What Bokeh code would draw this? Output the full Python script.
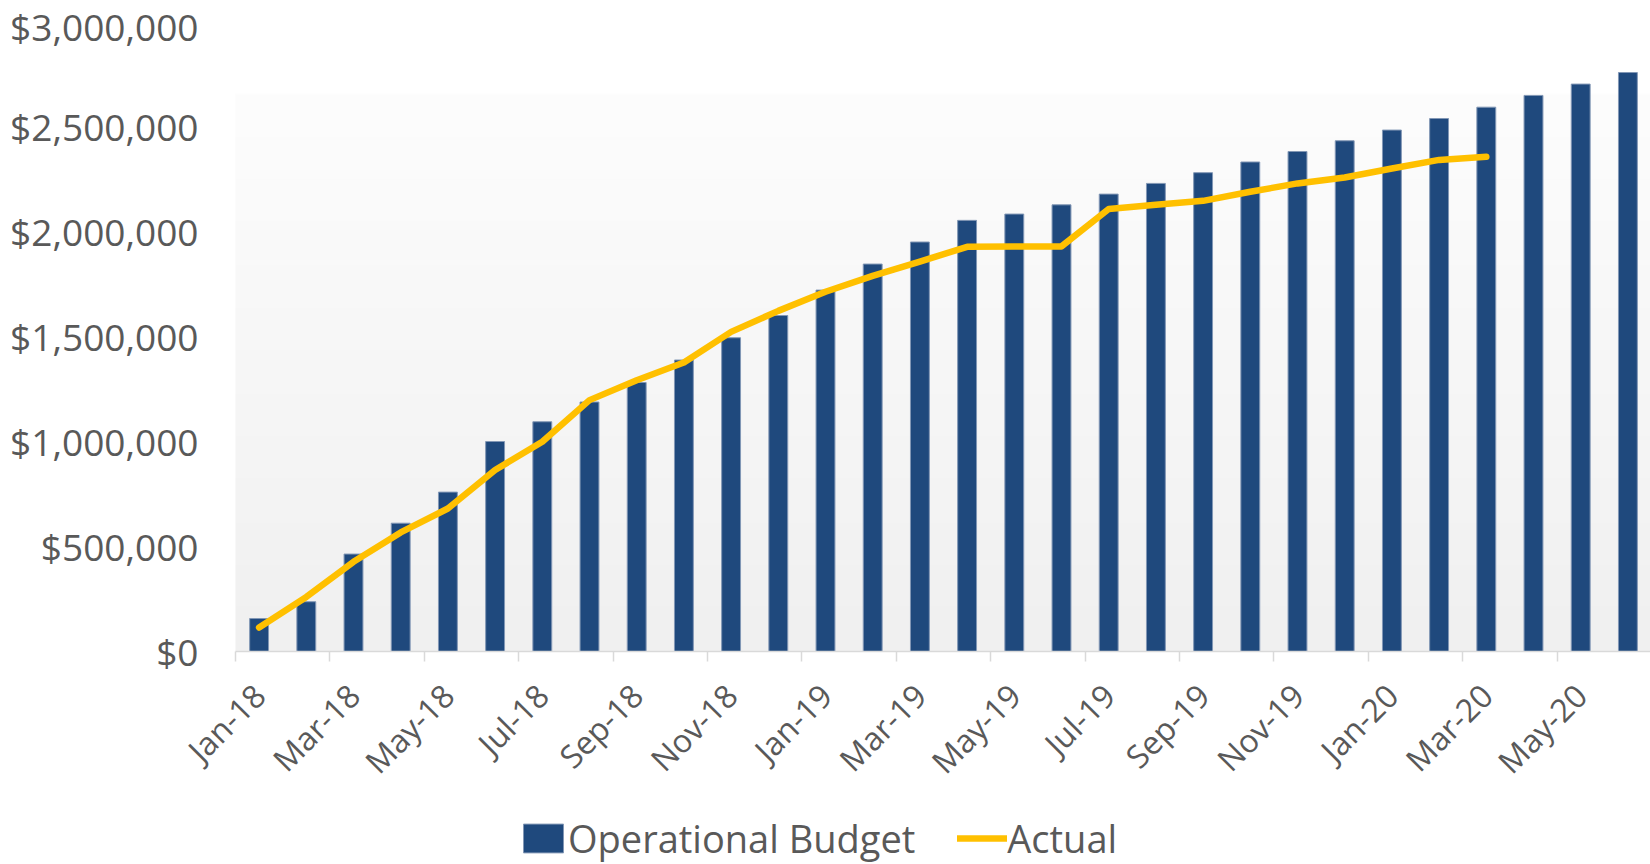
import numpy as np
from bokeh.plotting import figure
from bokeh.models import (Range1d, FixedTicker, NumeralTickFormatter, Legend, LegendItem)
from bokeh.embed import file_html
from bokeh.resources import INLINE
from math import pi

months = ["Jan-18", "Feb-18", "Mar-18", "Apr-18", "May-18", "Jun-18", "Jul-18", "Aug-18",
          "Sep-18", "Oct-18", "Nov-18", "Dec-18", "Jan-19", "Feb-19", "Mar-19", "Apr-19",
          "May-19", "Jun-19", "Jul-19", "Aug-19", "Sep-19", "Oct-19", "Nov-19", "Dec-19",
          "Jan-20", "Feb-20", "Mar-20", "Apr-20", "May-20", "Jun-20"]

operational_budget = [157000, 237000, 464000, 611000, 759000, 1000000, 1094000, 1188000,
                      1281000, 1388000, 1494000, 1600000, 1721000, 1845000, 1950000, 2053000,
                      2083000, 2127000, 2178000, 2229000, 2280000, 2331000, 2381000, 2432000,
                      2483000, 2538000, 2592000, 2648000, 2702000, 2757000]

actual = [114000, 260000, 427000, 567000, 681000, 864000, 999000, 1197000, 1292000,
          1376000, 1522000, 1622000, 1713000, 1789000, 1857000, 1927000, 1929000, 1929000,
          2107000, 2127000, 2146000, 2189000, 2229000, 2257000, 2300000, 2341000, 2356000]

y_ticks = [0, 500000, 1000000, 1500000, 2000000, 2500000, 3000000]

n = len(months)
x_idx = list(range(n))

# page geometry (px): plot area placement inside the full canvas
W, H = 1650, 864
LEFT, TOP, PLOT_H = 235, 21, 630
CAT_W = 47.2
Y_TOP_VAL = 3000000
per_px = Y_TOP_VAL / PLOT_H
Y_MAX = Y_TOP_VAL + TOP * per_px
Y_MIN = -(H - TOP - PLOT_H) * per_px
X0 = -0.5
X_START = X0 - LEFT / CAT_W
X_END = X0 + (W - LEFT) / CAT_W

p = figure(width=W, height=H,
           x_range=Range1d(X_START, X_END), y_range=Range1d(Y_MIN, Y_MAX),
           output_backend="svg", toolbar_location=None,
           min_border_left=0, min_border_right=0, min_border_top=0, min_border_bottom=0)
p.background_fill_color = "white"
p.border_fill_color = "white"
p.outline_line_color = None
p.xgrid.visible = False
p.ygrid.visible = False

# plot-area gradient background (light grey at bottom -> white near top)
GRAD_TOP = 2656000
rows = 200
t = np.linspace(0, 1, rows)
c = (240 + (253 - 240) * t).astype(np.uint32)
img = np.empty((rows, 1), dtype=np.uint32)
img[:, 0] = (255 << 24) | (c << 16) | (c << 8) | c
p.image_rgba(image=[img], x=X0, y=0, dw=X_END - X0, dh=GRAD_TOP)

bars = p.vbar(x=x_idx, top=operational_budget, width=0.4,
              fill_color="#1F497D", line_color="#8297b5", line_width=1)
ln = p.line(x=x_idx[:len(actual)], y=actual, line_color="#FFC000", line_width=6.5,
            line_cap="round", line_join="round")

# x axis, pinned at y = 0
xax = p.xaxis[0]
xax.fixed_location = 0
xax.bounds = (X0, X_END)
xax.ticker = FixedTicker(ticks=list(range(0, n, 2)),
                         minor_ticks=[i - 0.5 for i in range(0, n + 1, 2)])
xax.major_label_overrides = {i: months[i] for i in range(0, n, 2)}
xax.major_label_orientation = pi / 4
xax.major_tick_line_color = None
xax.major_tick_out = 0
xax.major_tick_in = 0
xax.minor_tick_line_color = "#d9d9d9"
xax.minor_tick_line_width = 1.5
xax.minor_tick_out = 10
xax.minor_tick_in = 0
xax.axis_line_color = "#d9d9d9"
xax.axis_line_width = 1.5
xax.major_label_text_font = "Open Sans"
xax.major_label_text_font_size = "32px"
xax.major_label_text_color = "#595959"
xax.major_label_standoff = 28

# y axis, pinned at the left edge of the plot area
yax = p.yaxis[0]
yax.fixed_location = X0
yax.bounds = (0, Y_TOP_VAL)
yax.ticker = FixedTicker(ticks=y_ticks)
yax.formatter = NumeralTickFormatter(format="$0,0")
yax.axis_line_color = None
yax.major_tick_line_color = None
yax.minor_tick_line_color = None
yax.major_tick_out = 0
yax.major_tick_in = 0
yax.major_label_standoff = 37
yax.major_label_text_font = "Open Sans"
yax.major_label_text_font_size = "37px"
yax.major_label_text_color = "#595959"

legend = Legend(items=[LegendItem(label="Operational Budget", renderers=[bars]),
                       LegendItem(label="Actual", renderers=[ln])],
                location=(283 + LEFT, 0), orientation="horizontal",
                glyph_width=50, glyph_height=36, label_height=36, label_standoff=0, spacing=42,
                padding=0, margin=0, border_line_color=None, background_fill_alpha=0,
                label_text_font="Open Sans", label_text_font_size="38px",
                label_text_color="#595959")
p.add_layout(legend, "center")

open("out.html", "w").write(file_html(p, INLINE))
